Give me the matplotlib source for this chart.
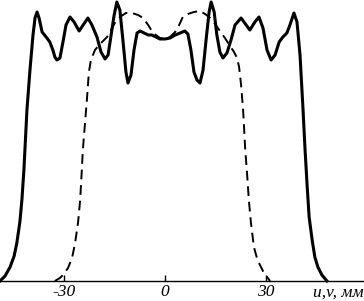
import matplotlib
matplotlib.use('Agg')
import matplotlib.pyplot as plt

# solid profile: u (mm) and relative intensity
solid_u = [-49.0, -47.5, -46.0, -44.8, -44.0, -43.1, -42.5, -41.9, -41.6, -41.0,
           -40.1, -39.2, -38.6, -38.0, -37.4, -36.5, -35.3, -34.2, -33.3, -32.7,
           -32.1, -31.2, -30.3, -29.4, -28.2, -27.0, -25.5, -24.1, -22.9, -21.7,
           -20.2, -19.0, -17.8, -16.9, -16.0, -15.1, -14.3, -13.4, -12.5, -11.6,
           -11.0, -10.1, -9.2, -8.3, -7.4, -6.2, -5.0, -3.9, -2.7, -1.5,
           0.0, 1.5, 3.0, 4.5, 5.9, 6.8, 7.7, 8.6, 9.5, 10.4,
           11.3, 12.2, 13.1, 13.7, 14.6, 15.4, 16.3, 17.2, 18.4, 19.6,
           20.8, 22.6, 24.1, 25.2, 26.7, 27.9, 29.1, 30.3, 31.5, 32.7,
           33.9, 35.0, 36.2, 37.1, 38.3, 39.2, 40.1, 41.0, 41.6, 42.2,
           42.8, 43.7, 44.5, 45.4, 46.6, 48.1]
solid_i = [0, 5, 14, 25, 38, 59, 81, 111, 131, 171,
           211, 246, 263, 269, 263, 249, 244, 239, 231, 224,
           221, 223, 239, 256, 264, 259, 250, 257, 263, 256,
           244, 229, 222, 226, 246, 266, 279, 271, 241, 209,
           198, 206, 231, 248, 250, 248, 246, 246, 244, 242,
           242, 243, 246, 248, 250, 247, 231, 209, 201, 198,
           211, 241, 269, 279, 269, 246, 229, 223, 228, 241,
           256, 263, 256, 251, 259, 264, 253, 231, 221, 226,
           239, 244, 248, 256, 268, 259, 226, 171, 131, 96,
           64, 41, 24, 14, 6, 0]

# dashed profile
dash_u = [-32.7, -31.2, -30.3, -28.8, -27.6, -26.7, -25.8, -25.2, -24.7, -24.4,
          -23.8, -23.2, -22.6, -22.0, -20.8, -19.3, -18.1, -17.2, -16.0, -14.9,
          -13.4, -11.6, -9.8, -8.0, -6.5, -5.0, -3.9, -2.7, -1.5, 0.0,
          1.5, 3.0, 4.2, 5.3, 6.8, 8.6, 10.4, 11.9, 13.4, 14.9,
          16.3, 17.8, 19.3, 20.5, 21.4, 22.0, 22.6, 23.2, 23.8, 24.4,
          24.9, 25.5, 26.4, 27.3, 28.2, 29.4, 31.2]
dash_i = [0, 3, 6, 13, 23, 38, 59, 81, 111, 131,
          156, 181, 209, 221, 231, 237, 241, 244, 251, 258,
          264, 268, 268, 266, 263, 256, 250, 246, 243, 242,
          244, 249, 256, 264, 267, 269, 270, 267, 263, 257,
          250, 243, 235, 229, 223, 214, 196, 171, 133, 106,
          81, 59, 34, 23, 16, 8, 0]

tick_pos = [-30, 0, 30]
tick_text = ['-30', '0', '30']
axis_label = 'u,v, мм'

fig = plt.figure(figsize=(3.64, 3.01), dpi=100)
ax = fig.add_axes([0, 20 / 301, 1, 281 / 301])

ax.plot(solid_u, solid_i, color='black', lw=2.2, clip_on=False,
        solid_joinstyle='round')
ax.plot(dash_u, dash_i, color='black', lw=1.4, ls=(0, (5, 3)), clip_on=False)

ax.set_xlim(-49.0, 59.1)
ax.set_ylim(0, 281)
for s in ['left', 'right', 'top']:
    ax.spines[s].set_visible(False)
ax.spines['bottom'].set_linewidth(1.0)
ax.set_yticks([])
ax.set_xticks(tick_pos)
ax.set_xticklabels(tick_text, family='Liberation Serif', style='italic',
                   fontsize=12.5)
ax.tick_params(axis='x', direction='in', length=4, width=1, pad=2)

fig.text(1.0, 20 / 301 - 0.012, axis_label, ha='right', va='top',
         family='Liberation Serif', style='italic', fontsize=12.5)

fig.savefig('out.png', dpi=100)
